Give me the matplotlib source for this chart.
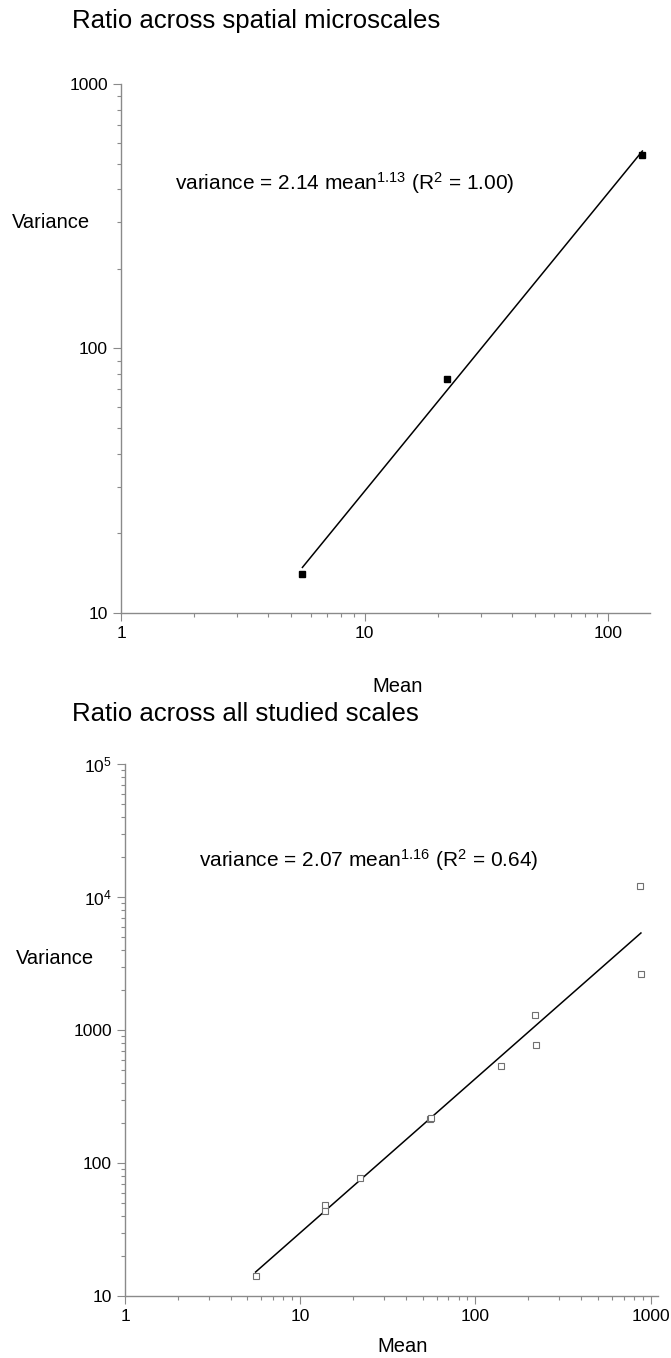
import numpy as np
import matplotlib
matplotlib.use("Agg")
import matplotlib.pyplot as plt
from matplotlib.ticker import LogLocator, FixedLocator, FixedFormatter, NullFormatter

plt.rcParams['font.family'] = ['Liberation Sans', 'DejaVu Sans']
plt.rcParams['mathtext.fontset'] = 'custom'
plt.rcParams['mathtext.rm'] = 'Liberation Sans'
plt.rcParams['mathtext.it'] = 'Liberation Sans:italic'
plt.rcParams['mathtext.bf'] = 'Liberation Sans:bold'

# ---------------- data ----------------
top_title = "Ratio across spatial microscales"
bottom_title = "Ratio across all studied scales"
top_mean = [5.55, 21.7, 137.7]
top_var = [13.96, 76.4, 540.0]
top_fit_a, top_fit_b = 2.14, 1.13
top_eq = r"variance = 2.14 mean$^{\mathrm{1.13}}$ (R$^{\mathrm{2}}$ = 1.00)"

all_mean = [5.56, 13.76, 13.76, 21.8, 54.9, 55.6, 138.9, 217.9, 220.3, 874.0, 879.0]
all_var = [14.1, 48.6, 43.4, 76.9, 215.4, 219.0, 537.0, 1296.0, 771.0, 12064.0, 2653.0]
all_fit_a, all_fit_b = 2.07, 1.16
all_eq = r"variance = 2.07 mean$^{\mathrm{1.16}}$ (R$^{\mathrm{2}}$ = 0.64)"

top_xticks = [1, 10, 100]
top_xticklabels = ["1", "10", "100"]
top_yticks = [10, 100, 1000]
top_yticklabels = ["10", "100", "1000"]
bot_xticks = [1, 10, 100, 1000]
bot_xticklabels = ["1", "10", "100", "1000"]
bot_yticks = [10, 100, 1000, 1e4, 1e5]
bot_yticklabels = ["10", "100", "1000", r"10$^{\mathrm{4}}$", r"10$^{\mathrm{5}}$"]

# ---------------- layout ----------------
W, H = 671, 1358
fig = plt.figure(figsize=(W / 100, H / 100), dpi=100)
fig.patch.set_facecolor('white')

def px_rect(l, t, r, b):
    return [l / W, 1 - b / H, (r - l) / W, (b - t) / H]

def fx(x):
    return x / W

def fy(y):
    return 1 - y / H

GRAY = '#8a8a8a'

def style(ax, xlim, ylim, xt, xtl, yt, ytl):
    ax.set_xscale('log')
    ax.set_yscale('log')
    ax.set_xlim(*xlim)
    ax.set_ylim(*ylim)
    for s in ['top', 'right']:
        ax.spines[s].set_visible(False)
    for s in ['left', 'bottom']:
        ax.spines[s].set_color(GRAY)
        ax.spines[s].set_linewidth(1.0)
    ax.xaxis.set_major_locator(FixedLocator(xt))
    ax.xaxis.set_major_formatter(FixedFormatter(xtl))
    ax.yaxis.set_major_locator(FixedLocator(yt))
    ax.yaxis.set_major_formatter(FixedFormatter(ytl))
    ax.xaxis.set_minor_locator(LogLocator(base=10, subs=np.arange(2, 10), numticks=20))
    ax.yaxis.set_minor_locator(LogLocator(base=10, subs=np.arange(2, 10), numticks=20))
    ax.xaxis.set_minor_formatter(NullFormatter())
    ax.yaxis.set_minor_formatter(NullFormatter())
    ax.tick_params(which='major', length=5.8, width=0.8, color=GRAY, labelsize=12.5,
                   labelcolor='black', pad=3.5, direction='out')
    ax.tick_params(which='minor', length=3.0, width=0.8, color=GRAY, direction='out')

# top panel
ax1 = fig.add_axes(px_rect(121, 84.3, 650, 612.7))
style(ax1, (1, 148), (10, 1000), top_xticks, top_xticklabels, top_yticks, top_yticklabels)
xf = np.array([min(top_mean), max(top_mean)])
ax1.plot(xf, top_fit_a * xf ** top_fit_b, color='black', lw=1.1, zorder=2)
ax1.plot(top_mean, top_var, linestyle='none', marker='s', markersize=4.5,
         markerfacecolor='black', markeredgecolor='black', zorder=3, clip_on=False)

# bottom panel
ax2 = fig.add_axes(px_rect(125, 764.3, 658, 1296))
style(ax2, (1, 1100), (10, 1e5), bot_xticks, bot_xticklabels, bot_yticks, bot_yticklabels)
xf2 = np.array([min(all_mean), max(all_mean)])
ax2.plot(xf2, all_fit_a * xf2 ** all_fit_b, color='black', lw=1.1, zorder=2)
ax2.plot(all_mean, all_var, linestyle='none', marker='s', markersize=4.8,
         markerfacecolor='white', markeredgecolor='#707070', markeredgewidth=0.8,
         zorder=3, clip_on=False)

# texts
fig.text(fx(72), fy(28), top_title, fontsize=18.5, ha='left', va='baseline')
fig.text(fx(72), fy(721), bottom_title, fontsize=18.5, ha='left', va='baseline')
fig.text(fx(12), fy(223), "Variance", fontsize=14.5, ha='left', va='center')
fig.text(fx(16), fy(958), "Variance", fontsize=14.5, ha='left', va='center')
fig.text(fx(398), fy(687), "Mean", fontsize=14.5, ha='center', va='center')
fig.text(fx(403), fy(1346), "Mean", fontsize=14.5, ha='center', va='center')
fig.text(fx(175), fy(183), top_eq, fontsize=15, ha='left', va='center')
fig.text(fx(199), fy(860), all_eq, fontsize=15, ha='left', va='center')

fig.savefig("out.png", dpi=100, facecolor='white')
